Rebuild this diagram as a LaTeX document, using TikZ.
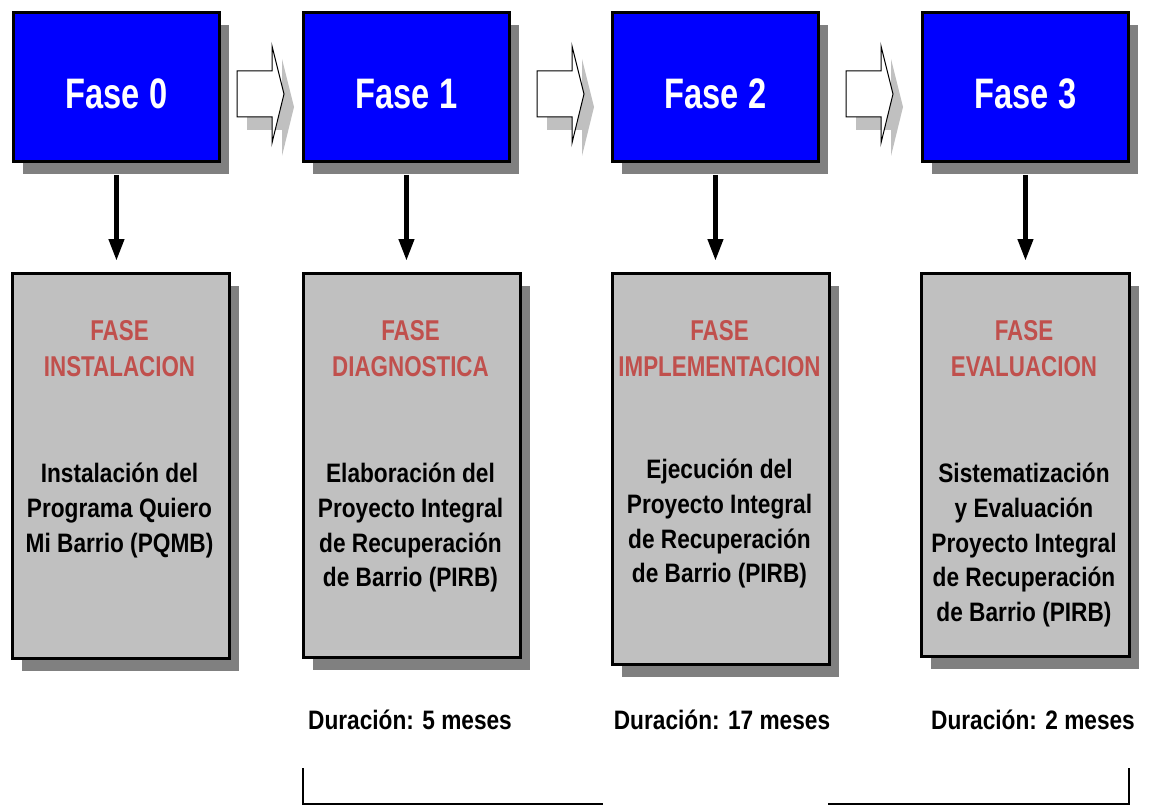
\documentclass[tikz,border=0pt]{standalone}
\usepackage{fontspec}
\setmainfont{Liberation Sans}
\newfontfamily\fasefont[FakeStretch=0.765]{Liberation Sans}
\newfontfamily\titlefont[FakeStretch=0.78]{Liberation Sans}
\newfontfamily\bodyfont[FakeStretch=0.85]{Liberation Sans}
\usepackage{xcolor}
\usepackage{tikz}
\usetikzlibrary{arrows.meta,shadows}

\definecolor{faseblue}{RGB}{0,0,255}
\definecolor{boxgray}{RGB}{192,192,192}
\definecolor{shadowgray}{RGB}{128,128,128}
\definecolor{titlered}{RGB}{192,80,77}

\tikzset{
  boxshadow/.style={drop shadow={shadow xshift=7.5pt, shadow yshift=-9.75pt, fill=shadowgray, opacity=1}},
  fasebox/.style={draw=black, line width=2.2pt, fill=faseblue, boxshadow, anchor=north west,
    minimum width=154.5pt, minimum height=111.75pt, inner sep=0pt, text=white,
    font=\fasefont\bfseries\fontsize{32}{38}\selectfont, text height=32pt, text depth=0pt},
  graybox/.style={draw=black, line width=2.2pt, fill=boxgray, boxshadow, anchor=north west,
    minimum width=162.75pt, inner sep=0pt},
  titletext/.style={anchor=north, inner sep=0pt, align=center, text=titlered,
    font=\titlefont\bfseries\fontsize{21.5}{27}\selectfont},
  bodytext/.style={anchor=north, inner sep=0pt, align=center,
    font=\bodyfont\bfseries\fontsize{20}{26}\selectfont},
  durtext/.style={anchor=base, inner sep=0pt, font=\bodyfont\bfseries\fontsize{20}{24}\selectfont},
  downarrow/.style={line width=3.75pt, -{Triangle[length=16.5pt,width=11pt]}, shorten <=9pt, shorten >=8.25pt},
  blockarrow/.style={draw=black, fill=white, line width=0.75pt, line join=miter},
  blockshadow/.style={fill=boxgray},
  bracket/.style={line width=2pt}
}

\begin{document}
\begin{tikzpicture}[x=0.75pt,y=0.75pt,yscale=-1]
  \useasboundingbox (0,0) rectangle (1152,806);

  % Phase boxes
  \node[fasebox] (f0) at (12,11) {Fase 0};
  \node[fasebox] (f1) at (302,11) {Fase 1};
  \node[fasebox] (f2) at (611,11) {Fase 2};
  \node[fasebox] (f3) at (921,11) {Fase 3};

  % Block arrows between phases
  \foreach \dx in {0,300,609}{
    \fill[blockshadow, shift={(\dx+10,13)}] (237,71) -- (272,71) -- (272,46) -- (284,94) -- (272,143) -- (272,117) -- (237,117) -- cycle;
    \draw[blockarrow, shift={(\dx,0)}] (237,71) -- (272,71) -- (272,46) -- (284,94) -- (272,143) -- (272,117) -- (237,117) -- cycle;
  }

  % Description boxes
  \node[graybox, minimum height=288.75pt] (g0) at (11,272) {};
  \node[graybox, minimum height=288pt] (g1) at (302,272) {};
  \node[graybox, minimum height=293.25pt] (g2) at (611,272) {};
  \node[graybox, minimum width=156pt, minimum height=287.25pt] (g3) at (920,272) {};

  % Down arrows
  \foreach \n in {0,1,2,3}
    \draw[downarrow] (f\n.south) -- (f\n.south |- g\n.north);

  % Titles
  \node[titletext] (t0) at (119.5,320) {FASE\\INSTALACION};
  \node[titletext] (t1) at (410.5,320) {FASE\\DIAGNOSTICA};
  \node[titletext] (t2) at (719.5,320) {FASE\\IMPLEMENTACION};
  \node[titletext] (t3) at (1024,320) {FASE\\EVALUACION};

  % Descriptions
  \node[bodytext] (b0) at (119.5,463) {Instalación del\\Programa Quiero\\Mi Barrio (PQMB)};
  \node[bodytext] (b1) at (410.5,463) {Elaboración del\\Proyecto Integral\\de Recuperación\\de Barrio (PIRB)};
  \node[bodytext] (b2) at (719.5,459) {Ejecución del\\Proyecto Integral\\de Recuperación\\de Barrio (PIRB)};
  \node[bodytext] (b3) at (1024,463) {Sistematización\\y Evaluación\\Proyecto Integral\\de Recuperación\\de Barrio (PIRB)};

  % Durations
  \node[durtext] (d1) at (410,729) {Duración: 5 meses};
  \node[durtext] (d2) at (722,729) {Duración: 17 meses};
  \node[durtext] (d3) at (1033,729) {Duración: 2 meses};

  % Brackets
  \draw[bracket] (303,768) -- (303,804) -- (603,804);
  \draw[bracket] (828,804) -- (1129,804) -- (1129,768);
\end{tikzpicture}
\end{document}
